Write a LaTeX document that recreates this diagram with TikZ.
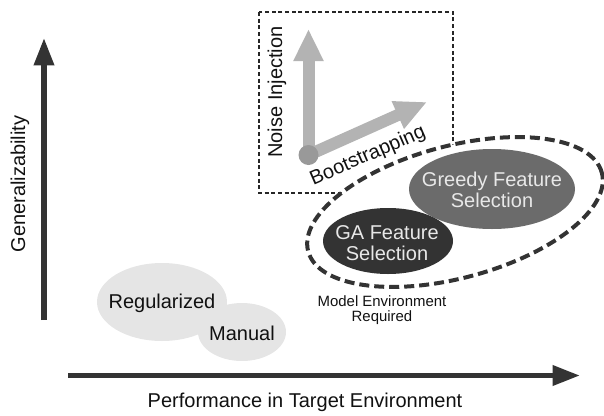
\documentclass[tikz,border=0pt]{standalone}
\usepackage{fontspec}
\setmainfont{Liberation Sans}
\usetikzlibrary{arrows.meta,shapes.geometric}
\definecolor{axisgray}{HTML}{333333}
\definecolor{arrowgray}{HTML}{B3B3B3}
\definecolor{dotgray}{HTML}{999999}
\definecolor{greedyfill}{HTML}{6B6B6B}
\definecolor{gafill}{HTML}{333333}
\definecolor{lightfill}{HTML}{E5E5E5}
\definecolor{lighttext}{HTML}{E8E8E8}
\definecolor{txt}{HTML}{111111}
\begin{document}
\begin{tikzpicture}[x=0.75pt,y=-0.75pt,
  lbl/.style={font=\fontsize{15}{15.5}\selectfont, align=center, inner sep=0pt, text=txt},
  smalllbl/.style={font=\fontsize{11.2}{11.5}\selectfont, align=center, inner sep=0pt, text=txt},
  blob/.style={ellipse, inner sep=0pt, draw=none},
  axisarrow/.style={draw=axisgray, line width=4.2pt, -{Triangle[length=20.5pt,width=14.5pt]}},
  grayarrow/.style={draw=arrowgray, line width=9pt, -{Triangle[length=24pt,width=21pt]}},
  dashbox/.style={draw=black!85, line width=1.5pt, dash pattern=on 3pt off 2pt},
  dashring/.style={draw=axisgray, fill=white, line width=3pt, dash pattern=on 7.5pt off 3.75pt}
]
\useasboundingbox (0,0) rectangle (604,415);

% axes
\coordinate (yfoot) at (44,320);
\coordinate (ytip) at (44,38);
\coordinate (xfoot) at (68,375.5);
\coordinate (xtip) at (580,375.5);
\draw[axisarrow] (yfoot) -- (ytip);
\draw[axisarrow] (xfoot) -- (xtip);
\node[lbl, rotate=90] (ylab) at (20,184) {Generalizability};
\node[lbl] (xlab) at (305,402) {Performance in Target Environment};

% dashed box
\draw[dashbox] (259,12) rectangle (453,193);

% dashed ring (white inside) and feature selection ellipses
\node[blob, dashring, rotate=15, minimum width=228pt, minimum height=99pt] (ring) at (455,212) {};
\node[blob, fill=greedyfill, minimum width=124.5pt, minimum height=60pt] (greedy) at (492,189) {};
\node[lbl, text=lighttext] (greedytxt) at (492,190) {Greedy Feature\\Selection};
\node[blob, fill=gafill, minimum width=97.5pt, minimum height=49.5pt] (ga) at (388,241) {};
\node[lbl, text=lighttext] (gatxt) at (387,243) {GA Feature\\Selection};
\node[smalllbl] (model) at (382,310) {Model Environment\\Required};

% gray arrows
\coordinate (origin) at (308.5,155);
\coordinate (ntip) at (308.5,29);
\coordinate (btip) at (427,102);
\draw[grayarrow] (origin) -- (ntip);
\draw[grayarrow] (origin) -- (btip);
\fill[dotgray] (origin) circle[radius=10];
\node[lbl, rotate=90] (noise) at (277,92) {Noise Injection};
\node[lbl, rotate=23.5] (boot) at (368,156) {Bootstrapping};

% regularized / manual
\node[blob, fill=lightfill, minimum width=97.5pt, minimum height=58.5pt] (reg) at (162,302) {};
\node[blob, fill=lightfill, minimum width=66pt, minimum height=43.5pt] (man) at (242,332) {};
\node[lbl] (regtxt) at (162,303) {Regularized};
\node[lbl] (mantxt) at (242,333) {Manual};
\end{tikzpicture}
\end{document}
